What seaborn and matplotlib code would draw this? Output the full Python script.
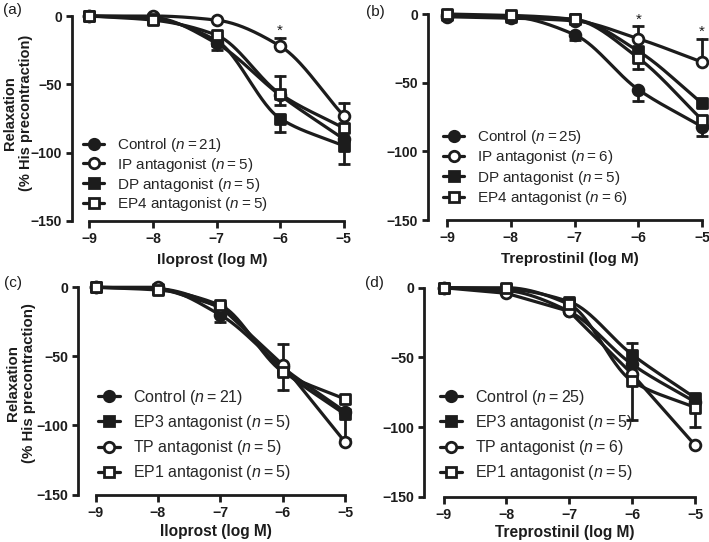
import numpy as np
import pandas as pd
import seaborn as sns
import matplotlib
matplotlib.use("Agg")
import matplotlib.pyplot as plt
from matplotlib.lines import Line2D

# ---------------- data ----------------
log_conc = [-9, -8, -7, -6, -5]
x_ticks = [-9, -8, -7, -6, -5]
y_ticks = [0, -50, -100, -150]

# (a) Iloprost
a_control = [0, -1, -20, -58, -90]
a_control_lo = [0, 0, 5, 0, 0]
a_ip = [0, 0, -3, -22, -73]
a_ip_hi = [0, 0, 0, 6, 9]
a_dp = [0, -2, -18, -75, -95]
a_dp_lo = [0, 0, 0, 10, 13]
a_ep4 = [0, -3, -14, -57, -82]
a_ep4_lo = [0, 0, 0, 8, 0]
a_ep4_hi = [0, 0, 0, 13, 0]
a_labels = ["Control", "IP antagonist", "DP antagonist", "EP4 antagonist"]
a_n = [21, 5, 5, 5]
a_star_x = [-6]

# (b) Treprostinil
b_control = [-1, -2, -15, -55, -82]
b_control_lo = [0, 0, 4, 8, 7]
b_ip = [-2, -3, -5, -18, -35]
b_ip_hi = [0, 0, 0, 9, 17]
b_dp = [-1, -2, -4, -27, -65]
b_ep4 = [0, -1, -4, -32, -77]
b_ep4_lo = [0, 0, 0, 8, 0]
b_labels = ["Control", "IP antagonist", "DP antagonist", "EP4 antagonist"]
b_n = [25, 6, 5, 6]
b_star_x = [-6, -5]

# (c) Iloprost
c_control = [0, -1, -20, -58, -90]
c_control_lo = [0, 0, 5, 0, 0]
c_ep3 = [0, -1, -15, -60, -92]
c_ep3_lo = [0, 0, 0, 0, 18]
c_tp = [0, 0, -14, -56, -112]
c_tp_hi = [0, 0, 0, 15, 0]
c_ep1 = [0, -2, -13, -61, -81]
c_ep1_lo = [0, 0, 0, 13, 0]
c_labels = ["Control", "EP3 antagonist", "TP antagonist", "EP1 antagonist"]
c_n = [21, 5, 5, 5]

# (d) Treprostinil
d_control = [0, -2, -17, -55, -82]
d_ep3 = [0, -1, -10, -48, -79]
d_ep3_hi = [0, 0, 0, 8, 0]
d_tp = [0, -4, -17, -62, -113]
d_ep1 = [0, 0, -12, -67, -86]
d_ep1_lo = [0, 0, 0, 28, 14]
d_labels = ["Control", "EP3 antagonist", "TP antagonist", "EP1 antagonist"]
d_n = [25, 5, 6, 5]

zeros = [0, 0, 0, 0, 0]

# ---------------- style ----------------
sns.set_style("ticks")
plt.rcParams["font.family"] = ["Liberation Sans", "DejaVu Sans"]
plt.rcParams["mathtext.fontset"] = "custom"
plt.rcParams["mathtext.rm"] = "Liberation Sans"
plt.rcParams["mathtext.it"] = "Liberation Sans:italic"

W, H = 709, 542
fig = plt.figure(figsize=(W / 100, H / 100), dpi=100)

INK = "#1c1c1c"
MARKERS = {
    "fc": dict(marker="o", face=INK),
    "oc": dict(marker="o", face="white"),
    "fs": dict(marker="s", face=INK),
    "os": dict(marker="s", face="white"),
}
LW = 2.3


def pchip(x, y, xs):
    x = np.asarray(x, float)
    y = np.asarray(y, float)
    h = np.diff(x)
    d = np.diff(y) / h
    n = len(x)
    m = np.zeros(n)
    m[0], m[-1] = d[0], d[-1]
    for k in range(1, n - 1):
        if d[k - 1] * d[k] <= 0:
            m[k] = 0.0
        else:
            w1 = 2 * h[k] + h[k - 1]
            w2 = h[k] + 2 * h[k - 1]
            m[k] = (w1 + w2) / (w1 / d[k - 1] + w2 / d[k])
    idx = np.clip(np.searchsorted(x, xs) - 1, 0, n - 2)
    t = (xs - x[idx]) / h[idx]
    h00 = 2 * t**3 - 3 * t**2 + 1
    h10 = t**3 - 2 * t**2 + t
    h01 = -2 * t**3 + 3 * t**2
    h11 = t**3 - t**2
    return h00 * y[idx] + h10 * h[idx] * m[idx] + h01 * y[idx + 1] + h11 * h[idx] * m[idx + 1]


def make_axes(spine_x, x9, x5, y0, y150, tick_fs):
    ppx = (x5 - x9) / 4.0
    ppy = (y150 - y0) / 150.0
    xmin = -9 - (x9 - spine_x) / ppx
    xmax = -4.85
    ymax = 8
    left = spine_x / W
    right = (x5 + 0.15 * ppx) / W
    top_px = y0 - ymax * ppy
    ax = fig.add_axes([left, 1 - y150 / H, right - left, (y150 - top_px) / H])
    ax.set_xlim(xmin, xmax)
    ax.set_ylim(-150, ymax)
    sns.despine(ax=ax)
    ax.spines["left"].set_bounds(-150, 0)
    ax.spines["bottom"].set_bounds(-9, -5)
    for s in ("left", "bottom"):
        ax.spines[s].set_linewidth(2.0)
        ax.spines[s].set_color(INK)
    ax.set_xticks(x_ticks)
    ax.set_xticklabels([f"\u2212{abs(v)}" for v in x_ticks])
    ax.set_yticks(y_ticks)
    ax.set_yticklabels(["0" if v == 0 else f"\u2212{abs(v)}" for v in y_ticks])
    ax.tick_params(axis="x", length=5, width=2.0, pad=3, labelsize=tick_fs, color=INK)
    ax.tick_params(axis="y", length=4, width=2.0, pad=3, labelsize=tick_fs, color=INK)
    for lab in ax.get_xticklabels() + ax.get_yticklabels():
        lab.set_fontweight("bold")
        lab.set_color(INK)
    return ax


def draw_panel(ax, series, xlabel, xlab_fs, xlab_pad, legend_xy, legend_fs, legend_sp, stars=None):
    handles, labels = [], []
    for s in series:
        y = s["y"]
        if s.get("straight"):
            xs = np.array(log_conc, float)
            ys = np.array(y, float)
        else:
            xs = np.linspace(-9, -5, 200)
            ys = pchip(log_conc, y, xs)
        df = pd.DataFrame({"x": xs, "y": ys})
        sns.lineplot(data=df, x="x", y="y", ax=ax, color=INK, linewidth=LW,
                     sort=False, estimator=None, clip_on=False, zorder=2)
        lo = s.get("lo", zeros)
        hi = s.get("hi", zeros)
        for xi, yi, l, u in zip(log_conc, y, lo, hi):
            for e in ((-l) if l > 0 else None, u if u > 0 else None):
                if e is None:
                    continue
                ax.plot([xi, xi], [yi, yi + e], color=INK, lw=2.0, zorder=3, clip_on=False)
                ax.plot([xi], [yi + e], marker="_", ms=8, mew=2.0, color=INK, zorder=3, clip_on=False)
        mk = MARKERS[s["style"]]
        sns.scatterplot(x=log_conc, y=y, ax=ax, marker=mk["marker"], s=60,
                        color=mk["face"], edgecolor=INK, linewidth=2.0,
                        zorder=5, clip_on=False, legend=False)
        handles.append(Line2D([0], [0], color=INK, lw=LW, marker=mk["marker"],
                              markersize=7.5, markerfacecolor=mk["face"],
                              markeredgecolor=INK, markeredgewidth=2.0))
        labels.append(f"{s['label']} ($n$\u2009=\u2009{s['n']})")
    if stars:
        for sx, sy in stars:
            ax.text(sx, sy, "*", ha="center", va="center", fontsize=11, color=INK)
    ax.set_xlabel(xlabel, fontsize=xlab_fs, fontweight="bold", labelpad=xlab_pad, color=INK)
    ax.set_ylabel("")
    ax.legend(handles, labels, loc="upper left",
              bbox_to_anchor=(legend_xy[0] / W, 1 - legend_xy[1] / H),
              bbox_transform=fig.transFigure, frameon=False, fontsize=legend_fs,
              handlelength=1.4, handletextpad=0.8, labelspacing=legend_sp,
              borderpad=0, borderaxespad=0)


def star_pos(y, hi, xs):
    out = []
    for xv in xs:
        i = log_conc.index(xv)
        out.append((xv, y[i] + hi[i] + 5))
    return out


# panel (a)
ax_a = make_axes(72, 89.3, 343.7, 16, 221, 10)
draw_panel(ax_a, [
    dict(label=a_labels[0], n=a_n[0], y=a_control, lo=a_control_lo, style="fc"),
    dict(label=a_labels[1], n=a_n[1], y=a_ip, hi=a_ip_hi, style="oc"),
    dict(label=a_labels[2], n=a_n[2], y=a_dp, lo=a_dp_lo, style="fs"),
    dict(label=a_labels[3], n=a_n[3], y=a_ep4, lo=a_ep4_lo, hi=a_ep4_hi, style="os"),
], "Iloprost (log M)", 11, 5, (83, 136), 11, 0.12, stars=star_pos(a_ip, a_ip_hi, a_star_x))

# panel (b)
ax_b = make_axes(428, 447, 702, 14, 220, 10)
draw_panel(ax_b, [
    dict(label=b_labels[0], n=b_n[0], y=b_control, lo=b_control_lo, style="fc"),
    dict(label=b_labels[1], n=b_n[1], y=b_ip, hi=b_ip_hi, style="oc"),
    dict(label=b_labels[2], n=b_n[2], y=b_dp, style="fs"),
    dict(label=b_labels[3], n=b_n[3], y=b_ep4, lo=b_ep4_lo, style="os"),
], "Treprostinil (log M)", 11, 5, (443, 128), 11, 0.15, stars=star_pos(b_ip, b_ip_hi, b_star_x))

# panel (c)
ax_c = make_axes(77.7, 95.5, 345, 287.3, 494.5, 10.2)
draw_panel(ax_c, [
    dict(label=c_labels[0], n=c_n[0], y=c_control, lo=c_control_lo, style="fc"),
    dict(label=c_labels[1], n=c_n[1], y=c_ep3, lo=c_ep3_lo, style="fs"),
    dict(label=c_labels[2], n=c_n[2], y=c_tp, hi=c_tp_hi, style="oc", straight=True),
    dict(label=c_labels[3], n=c_n[3], y=c_ep1, lo=c_ep1_lo, style="os"),
], "Iloprost (log M)", 11.2, 3, (98, 388), 11.5, 0.38)

# panel (d)
ax_d = make_axes(424.3, 443.5, 695, 287.7, 496.7, 10.2)
draw_panel(ax_d, [
    dict(label=d_labels[0], n=d_n[0], y=d_control, style="fc"),
    dict(label=d_labels[1], n=d_n[1], y=d_ep3, hi=d_ep3_hi, style="fs"),
    dict(label=d_labels[2], n=d_n[2], y=d_tp, style="oc", straight=True),
    dict(label=d_labels[3], n=d_n[3], y=d_ep1, lo=d_ep1_lo, style="os"),
], "Treprostinil (log M)", 11.2, 2, (440, 388), 11.5, 0.38)

# y labels and panel letters
for (xc, yc, fs) in [(18, 113, 10.5), (21, 383, 10.8)]:
    fig.text(xc / W, 1 - yc / H, "Relaxation\n(% His precontraction)", rotation=90,
             ha="center", va="center", fontsize=fs, fontweight="bold",
             linespacing=1.15, color=INK)
for (px, py, t) in [(3, 10, "(a)"), (366, 12, "(b)"), (4, 283, "(c)"), (365, 283, "(d)")]:
    fig.text(px / W, 1 - py / H, t, ha="left", va="center", fontsize=11, color=INK)

fig.savefig("out.png", dpi=100)
